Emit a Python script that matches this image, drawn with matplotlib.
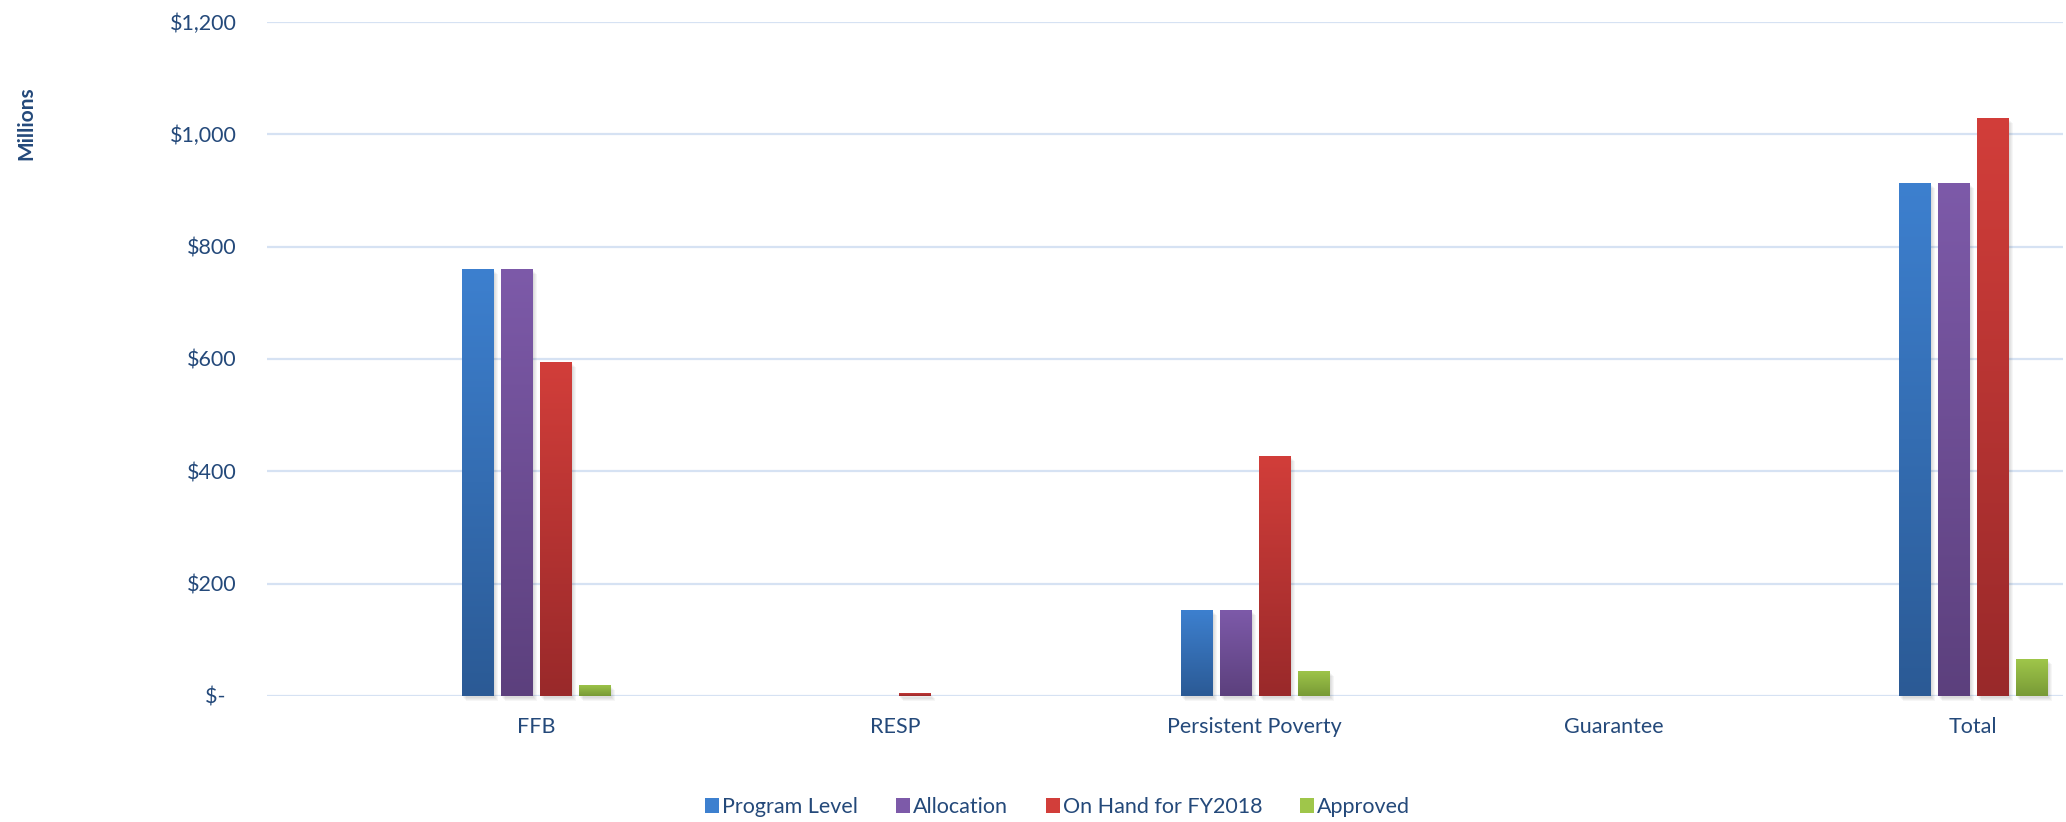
import numpy as np
import matplotlib.pyplot as plt
from matplotlib.colors import LinearSegmentedColormap
from matplotlib.patches import Patch, Rectangle

# Chart data ($ millions)
categories = ["FFB", "RESP", "Persistent Poverty", "Guarantee", "Total"]
series_names = ["Program Level", "Allocation", "On Hand for FY2018", "Approved"]
program_level = [761, 0, 153, 0, 914]
allocation = [761, 0, 153, 0, 914]
on_hand = [595, 6, 428, 0, 1029]
approved = [20, 0, 45, 0, 65]
y_ticks = [0, 200, 400, 600, 800, 1000, 1200]

values = [program_level, allocation, on_hand, approved]
# (top colour, bottom colour) for each series gradient
grads = [("#3d80cf", "#2b5a95"),
         ("#7d5aa9", "#5c407d"),
         ("#d23e3a", "#99292a"),
         ("#9fc64a", "#789a36")]
text_col = "#24497a"
grid_col = "#d6e2f3"

plt.rcParams['font.family'] = ['Lato', 'DejaVu Sans']


def money(v):
    return "$-  " if v == 0 else "${:,.0f}".format(v)


def main():
    fig = plt.figure(figsize=(20.66, 8.22), dpi=100)
    ax = fig.add_axes([0.1292, 0.1533, 0.8693, 0.8200])

    x = np.arange(len(categories))
    width = 0.089
    pitch = 0.1086
    first = 0.088
    px_x = 1 / 359.0
    px_y = 1 / 0.561

    for k, vals in enumerate(values):
        top, bottom = grads[k]
        cmap = LinearSegmentedColormap.from_list("g%d" % k, [bottom, top])
        grad = np.linspace(0, 1, 256).reshape(-1, 1)
        xs = x + first + k * pitch
        bars = ax.bar(xs, vals, width, color=top, zorder=3, linewidth=0)
        for b, v in zip(bars, vals):
            if v <= 0:
                continue
            x0 = b.get_x()
            # soft shadow
            for s in range(4):
                ax.add_patch(Rectangle((x0 + (1 + s) * px_x, -(2 + s) * px_y),
                                       width, v, color="#000000", alpha=0.035,
                                       linewidth=0, zorder=2, clip_on=False))
            im = ax.imshow(grad, cmap=cmap, origin="lower", aspect="auto",
                           extent=[x0, x0 + width, 0, v], zorder=4)
            im.set_clip_path(b)

    ax.set_xlim(-0.5, len(categories) - 0.5)
    ax.set_ylim(0, 1200)
    ax.set_yticks(y_ticks)
    ax.set_yticklabels([money(v) for v in y_ticks])
    ax.set_xticks(x + 0.25)
    ax.set_xticklabels(categories)
    ax.tick_params(axis="both", length=0, colors=text_col, labelsize=15.5)
    ax.tick_params(axis="y", pad=22)
    ax.tick_params(axis="x", pad=15)
    ax.yaxis.grid(True, color=grid_col, linewidth=1.6, zorder=0)
    ax.set_axisbelow(True)
    for sp in ax.spines.values():
        sp.set_visible(False)

    fig.text(0.013, 0.85, "Millions", rotation=90, fontsize=15, fontweight="bold",
             color=text_col, ha="center", va="center")

    handles = [Patch(facecolor=g[0], edgecolor="none") for g in grads]
    leg = fig.legend(handles, series_names, loc="center", bbox_to_anchor=(0.512, 0.018),
                     ncol=4, frameon=False, fontsize=15.5, handlelength=0.65,
                     handleheight=0.65, handletextpad=0.15, columnspacing=1.75)
    for t in leg.get_texts():
        t.set_color(text_col)

    fig.savefig("out.png", dpi=100)


if __name__ == "__main__":
    main()
